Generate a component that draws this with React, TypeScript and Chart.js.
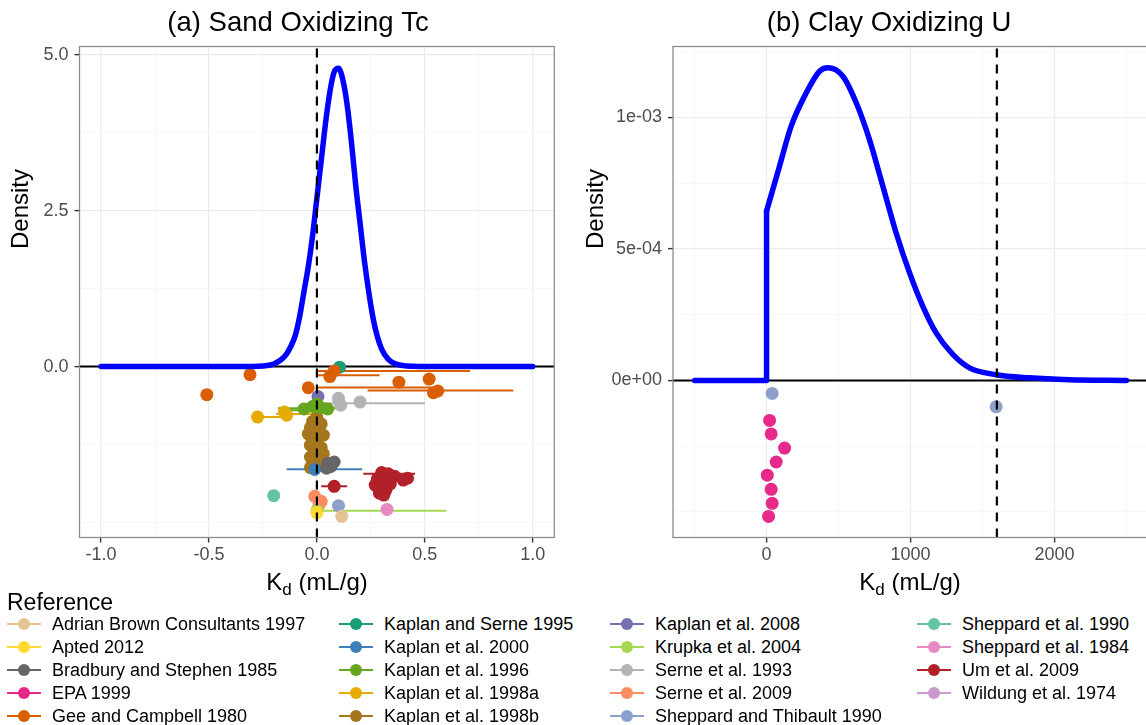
import React, { useEffect, useRef } from "react";
import { Chart, registerables } from "chart.js";

Chart.register(...registerables);

const FONT = '"Liberation Sans", Arial, Helvetica, sans-serif';

// ---------- references ----------
const referenceNames = [
  "Adrian Brown Consultants 1997",
  "Apted 2012",
  "Bradbury and Stephen 1985",
  "EPA 1999",
  "Gee and Campbell 1980",
  "Kaplan and Serne 1995",
  "Kaplan et al. 2000",
  "Kaplan et al. 1996",
  "Kaplan et al. 1998a",
  "Kaplan et al. 1998b",
  "Kaplan et al. 2008",
  "Krupka et al. 2004",
  "Serne et al. 1993",
  "Serne et al. 2009",
  "Sheppard and Thibault 1990",
  "Sheppard et al. 1990",
  "Sheppard et al. 1984",
  "Um et al. 2009",
  "Wildung et al. 1974",
];
const referenceColors = [
  "#e5c494", "#ffd92f", "#666666", "#e7298a", "#d95f02",
  "#1b9e77", "#4080b8", "#66a61e", "#e6ab02", "#a6761d",
  "#7570b3", "#a6d854", "#b3b3b3", "#fc8d62", "#8da0cb",
  "#66c2a5", "#e78ac3", "#b2212a", "#cc99cc",
];

// ---------- (a) Sand Oxidizing Tc ----------
const sandCurveX = [-1.0, -0.5, -0.3, -0.25, -0.2, -0.15, -0.12, -0.1, -0.08, -0.06, -0.04, -0.02, 0.0, 0.02, 0.04, 0.06, 0.08, 0.1, 0.12, 0.14, 0.16, 0.18, 0.2, 0.22, 0.24, 0.26, 0.28, 0.3, 0.33, 0.36, 0.4, 0.45, 0.5, 0.7, 1.0];
const sandCurveY = [0, 0, 0.002, 0.01, 0.04, 0.16, 0.33, 0.5, 0.8, 1.2, 1.6, 2.1, 2.7, 3.3, 3.9, 4.4, 4.72, 4.78, 4.6, 4.2, 3.6, 2.9, 2.3, 1.7, 1.2, 0.78, 0.48, 0.28, 0.12, 0.05, 0.015, 0.004, 0.001, 0, 0];

const sandPointRef = [
  4, 4, 4, 4, 4, 4, 4, 4, 4,
  5,
  10,
  12, 12, 12,
  7, 7, 7, 7, 7,
  8, 8, 8,
  9, 9, 9, 9, 9, 9, 9, 9, 9, 9, 9, 9, 9, 9, 9, 9, 9, 9,
  2, 2, 2, 2,
  6,
  17, 17, 17, 17, 17, 17, 17, 17, 17, 17, 17, 17, 17, 17,
  15,
  13, 13, 13,
  14,
  16,
  11,
  1,
  0,
];
const sandPointX = [
  -0.31, -0.51, 0.08, 0.06, 0.38, 0.52, -0.04, 0.54, 0.56,
  0.105,
  0.005,
  0.10, 0.20, 0.11,
  0.0, -0.02, 0.02, -0.06, 0.05,
  -0.275, -0.14, -0.15,
  0.0, -0.02, 0.02, -0.03, 0.01, -0.04, 0.03, -0.02, 0.0, -0.03, 0.02, -0.01, 0.03, -0.03, 0.01, -0.02, 0.02, -0.03,
  0.05, 0.08, 0.065, 0.045,
  -0.01,
  0.30, 0.33, 0.36, 0.42, 0.40, 0.28, 0.31, 0.34, 0.27, 0.30, 0.32, 0.29, 0.31, 0.08,
  -0.20,
  -0.01, 0.02, 0.01,
  0.10,
  0.325,
  0.0,
  0.0,
  0.115,
];
const sandPointY = [
  -0.13, -0.45, -0.07, -0.16, -0.25, -0.20, -0.34, -0.42, -0.39,
  -0.01,
  -0.48,
  -0.51, -0.57, -0.62,
  -0.60, -0.64, -0.66, -0.68, -0.68,
  -0.81, -0.78, -0.73,
  -0.82, -0.88, -0.92, -0.98, -1.02, -1.08, -1.10, -1.15, -1.20, -1.26, -1.30, -1.36, -1.40, -1.45, -1.50, -1.55, -1.58, -1.62,
  -1.55, -1.53, -1.60, -1.63,
  -1.65,
  -1.70, -1.72, -1.76, -1.79, -1.82, -1.80, -1.84, -1.88, -1.90, -1.94, -1.98, -2.03, -2.06, -1.92,
  -2.07,
  -2.08, -2.16, -2.22,
  -2.23,
  -2.29,
  -2.31,
  -2.34,
  -2.40,
];

const sandBarRef = [4, 4, 4, 4, 12, 7, 7, 8, 8, 6, 17, 17, 11];
const sandBarY = [-0.07, -0.14, -0.335, -0.385, -0.59, -0.67, -0.70, -0.81, -0.76, -1.645, -1.72, -1.92, -2.31];
const sandBarLo = [0.0, 0.0, 0.0, 0.235, 0.0, -0.18, -0.14, -0.275, -0.19, -0.14, 0.215, 0.02, 0.0];
const sandBarHi = [0.71, 0.29, 0.53, 0.91, 0.5, 0.12, 0.02, -0.12, -0.01, 0.21, 0.455, 0.14, 0.6];

const sandXMajor = [-1, -0.5, 0, 0.5, 1];
const sandXMajorLabels = ["-1.0", "-0.5", "0.0", "0.5", "1.0"];
const sandXMinor = [-0.75, -0.25, 0.25, 0.75];
const sandYMajor = [0, 2.5, 5];
const sandYMajorLabels = ["0.0", "2.5", "5.0"];
const sandYMinor = [-2.5, -1.25, 1.25, 3.75];
const sandXRange = [-1.1, 1.1];
const sandYRange = [-2.74, 5.13];
const sandVLine = 0;

// ---------- (b) Clay Oxidizing U ----------
const clayStepX = [-500, 0, 0];
const clayStepY = [0, 0, 0.000644];
const clayCurveX = [0, 90, 171, 276, 368, 426, 530, 623, 715, 808, 900, 993, 1085, 1178, 1294, 1410, 1595, 1826, 2100, 2500];
const clayCurveY = [0.000644, 0.000815, 0.000967, 0.001094, 0.001176, 0.001189, 0.001157, 0.001056, 0.000916, 0.000739, 0.000562, 0.00041, 0.000283, 0.000181, 0.000099, 0.000048, 0.000022, 0.00001, 0.000003, 0];

const clayPointRef = [14, 14, 3, 3, 3, 3, 3, 3, 3, 3];
const clayPointX = [39, 1595, 21, 32, 125, 67, 5, 32, 39, 14];
const clayPointY = [-0.000049, -0.0001, -0.000152, -0.000203, -0.000257, -0.00031, -0.00036, -0.000414, -0.000467, -0.000517];

const clayBarRef: number[] = [];
const clayBarY: number[] = [];
const clayBarLo: number[] = [];
const clayBarHi: number[] = [];

const clayXMajor = [0, 1000, 2000];
const clayXMajorLabels = ["0", "1000", "2000"];
const clayXMinor = [-500, 500, 1500, 2500];
const clayYMajor = [0, 0.0005, 0.001];
const clayYMajorLabels = ["0e+00", "5e-04", "1e-03"];
const clayYMinor = [-0.0005, -0.00025, 0.00025, 0.00075, 0.00125];
const clayXRange = [-650, 2650];
const clayYRange = [-0.000597, 0.00127];
const clayVLine = 1600;

// ---------- helpers ----------
type PanelSpec = {
  title: string;
  curves: { x: number[]; y: number[]; smooth: boolean }[];
  pointRef: number[]; pointX: number[]; pointY: number[];
  barRef: number[]; barY: number[]; barLo: number[]; barHi: number[];
  xMajor: number[]; xMajorLabels: string[]; xMinor: number[];
  yMajor: number[]; yMajorLabels: string[]; yMinor: number[];
  xRange: number[]; yRange: number[]; vline: number;
  canvasW: number; canvasH: number;
  areaLeft: number; areaRight: number; areaTop: number; areaBottom: number;
  titleX: number; yTitleX: number; yTitleY: number; xTitleX: number;
};

const panelDecor = {
  id: "panelDecor",
  beforeDatasetsDraw(chart: any) {
    const { ctx, chartArea, scales } = chart;
    const y0 = scales.y.getPixelForValue(0);
    ctx.save();
    ctx.strokeStyle = "#000000";
    ctx.lineWidth = 2;
    ctx.beginPath();
    ctx.moveTo(chartArea.left, y0);
    ctx.lineTo(chartArea.right, y0);
    ctx.stroke();
    ctx.restore();
  },
  afterDatasetsDraw(chart: any, _a: any, opts: any) {
    const { ctx, chartArea, scales } = chart;
    const xv = scales.x.getPixelForValue(opts.vline);
    ctx.save();
    ctx.strokeStyle = "#000000";
    ctx.lineWidth = 2.2;
    ctx.setLineDash([9, 7]);
    ctx.beginPath();
    ctx.moveTo(xv, chartArea.bottom);
    ctx.lineTo(xv, chartArea.top);
    ctx.stroke();
    ctx.setLineDash([]);
    ctx.strokeStyle = "#8c8c8c";
    ctx.lineWidth = 1.3;
    ctx.strokeRect(chartArea.left, chartArea.top, chartArea.right - chartArea.left, chartArea.bottom - chartArea.top);
    ctx.restore();
  },
  afterDraw(chart: any, _a: any, opts: any) {
    const { ctx } = chart;
    ctx.save();
    ctx.fillStyle = "#000000";
    ctx.font = `27.5px ${FONT}`;
    ctx.textAlign = "center";
    ctx.textBaseline = "alphabetic";
    ctx.fillText(opts.title, opts.titleX, 31);
    ctx.save();
    ctx.translate(opts.yTitleX, opts.yTitleY);
    ctx.rotate(-Math.PI / 2);
    ctx.font = `24px ${FONT}`;
    ctx.textAlign = "center";
    ctx.textBaseline = "middle";
    ctx.fillText("Density", 0, 0);
    ctx.restore();
    const big = `24px ${FONT}`;
    const small = `17px ${FONT}`;
    ctx.font = big;
    const wK = ctx.measureText("K").width;
    const wRest = ctx.measureText(" (mL/g)").width;
    ctx.font = small;
    const wd = ctx.measureText("d").width;
    let x = opts.xTitleX - (wK + wd + wRest) / 2;
    const base = 590;
    ctx.textAlign = "left";
    ctx.font = big;
    ctx.fillText("K", x, base);
    x += wK;
    ctx.font = small;
    ctx.fillText("d", x, base + 5);
    x += wd;
    ctx.font = big;
    ctx.fillText(" (mL/g)", x, base);
    ctx.restore();
  },
};

function buildConfig(p: PanelSpec): any {
  const datasets: any[] = [];
  p.barRef.forEach((r, i) => {
    datasets.push({
      data: [{ x: p.barLo[i], y: p.barY[i] }, { x: p.barHi[i], y: p.barY[i] }],
      showLine: true,
      borderColor: referenceColors[r],
      borderWidth: 2,
      pointRadius: 0,
      order: 3,
    });
  });
  referenceNames.forEach((name, r) => {
    const pts: { x: number; y: number }[] = [];
    p.pointRef.forEach((pr, i) => {
      if (pr === r) pts.push({ x: p.pointX[i], y: p.pointY[i] });
    });
    if (pts.length) {
      datasets.push({
        label: name,
        data: pts,
        backgroundColor: referenceColors[r],
        borderColor: referenceColors[r],
        borderWidth: 0,
        pointRadius: 6.5,
        pointHoverRadius: 6.5,
        order: 2,
      });
    }
  });
  p.curves.forEach((c) => {
    datasets.push({
      data: c.x.map((xv, i) => ({ x: xv, y: c.y[i] })),
      showLine: true,
      borderColor: "#0000ff",
      borderWidth: 5.5,
      pointRadius: 0,
      cubicInterpolationMode: c.smooth ? "monotone" : "default",
      tension: 0,
      borderCapStyle: "round",
      borderJoinStyle: "round",
      order: 1,
    });
  });

  const xTicks = [...p.xMajor, ...p.xMinor].sort((a, b) => a - b);
  const yTicks = [...p.yMajor, ...p.yMinor].sort((a, b) => a - b);
  const isXMaj = (v: number) => p.xMajor.indexOf(v) >= 0;
  const isYMaj = (v: number) => p.yMajor.indexOf(v) >= 0;

  const gridFor = (isMaj: (v: number) => boolean) => ({
    color: (ctx: any) => (ctx.tick && isMaj(ctx.tick.value) ? "#ebebeb" : "#f4f4f4"),
    lineWidth: (ctx: any) => (ctx.tick && isMaj(ctx.tick.value) ? 1.2 : 0.7),
    tickColor: (ctx: any) => (ctx.tick && isMaj(ctx.tick.value) ? "#333333" : "rgba(0,0,0,0)"),
    tickLength: 5,
    tickWidth: 1.4,
    drawTicks: true,
    drawOnChartArea: true,
  });

  return {
    type: "scatter",
    data: { datasets },
    options: {
      responsive: false,
      animation: false,
      devicePixelRatio: 1,
      events: [],
      layout: {
        padding: { left: 0, top: p.areaTop, right: p.canvasW - p.areaRight, bottom: 0 },
      },
      plugins: {
        legend: { display: false },
        tooltip: { enabled: false },
        title: { display: false },
        panelDecor: {
          vline: p.vline,
          title: p.title,
          titleX: p.titleX,
          yTitleX: p.yTitleX,
          yTitleY: p.yTitleY,
          xTitleX: p.xTitleX,
        },
      },
      scales: {
        x: {
          type: "linear",
          min: p.xRange[0],
          max: p.xRange[1],
          afterBuildTicks: (s: any) => {
            s.ticks = xTicks.map((v) => ({ value: v }));
          },
          afterFit: (s: any) => {
            s.height = p.canvasH - p.areaBottom;
          },
          ticks: {
            callback: (v: any) => {
              const i = p.xMajor.indexOf(v);
              return i >= 0 ? p.xMajorLabels[i] : "";
            },
            autoSkip: false,
            maxRotation: 0,
            minRotation: 0,
            color: "#4d4d4d",
            font: { size: 18, family: FONT },
            padding: 1.5,
          },
          grid: gridFor(isXMaj),
          border: { display: false },
        },
        y: {
          type: "linear",
          min: p.yRange[0],
          max: p.yRange[1],
          afterBuildTicks: (s: any) => {
            s.ticks = yTicks.map((v) => ({ value: v }));
          },
          afterFit: (s: any) => {
            s.width = p.areaLeft;
          },
          ticks: {
            callback: (v: any) => {
              const i = p.yMajor.indexOf(v);
              return i >= 0 ? p.yMajorLabels[i] : "";
            },
            autoSkip: false,
            color: "#4d4d4d",
            font: { size: 18, family: FONT },
            padding: 6,
          },
          grid: gridFor(isYMaj),
          border: { display: false },
        },
      },
    },
    plugins: [panelDecor],
  };
}

const sandSpec: PanelSpec = {
  title: "(a) Sand Oxidizing Tc",
  curves: [{ x: sandCurveX, y: sandCurveY, smooth: true }],
  pointRef: sandPointRef, pointX: sandPointX, pointY: sandPointY,
  barRef: sandBarRef, barY: sandBarY, barLo: sandBarLo, barHi: sandBarHi,
  xMajor: sandXMajor, xMajorLabels: sandXMajorLabels, xMinor: sandXMinor,
  yMajor: sandYMajor, yMajorLabels: sandYMajorLabels, yMinor: sandYMinor,
  xRange: sandXRange, yRange: sandYRange, vline: sandVLine,
  canvasW: 596, canvasH: 600,
  areaLeft: 79.5, areaRight: 554.3, areaTop: 46.5, areaBottom: 537.5,
  titleX: 298, yTitleX: 21, yTitleY: 209, xTitleX: 317,
};

const claySpec: PanelSpec = {
  title: "(b) Clay Oxidizing U",
  curves: [
    { x: clayStepX, y: clayStepY, smooth: false },
    { x: clayCurveX, y: clayCurveY, smooth: true },
  ],
  pointRef: clayPointRef, pointX: clayPointX, pointY: clayPointY,
  barRef: clayBarRef, barY: clayBarY, barLo: clayBarLo, barHi: clayBarHi,
  xMajor: clayXMajor, xMajorLabels: clayXMajorLabels, xMinor: clayXMinor,
  yMajor: clayYMajor, yMajorLabels: clayYMajorLabels, yMinor: clayYMinor,
  xRange: clayXRange, yRange: clayYRange, vline: clayVLine,
  canvasW: 620, canvasH: 600,
  areaLeft: 93, areaRight: 568, areaTop: 46.5, areaBottom: 537.5,
  titleX: 309, yTitleX: 16, yTitleY: 209, xTitleX: 330,
};

function Panel({ spec, left }: { spec: PanelSpec; left: number }) {
  const ref = useRef<HTMLCanvasElement>(null);
  useEffect(() => {
    const chart = new Chart(ref.current as HTMLCanvasElement, buildConfig(spec));
    return () => chart.destroy();
  }, [spec]);
  return (
    <canvas
      ref={ref}
      width={spec.canvasW}
      height={spec.canvasH}
      style={{ position: "absolute", left, top: 0, width: spec.canvasW, height: spec.canvasH }}
    />
  );
}

const legendColX = [7, 339, 610, 917];
const legendRowY0 = 624;
const legendRowStep = 23;

function Legend() {
  return (
    <>
      <div style={{ position: "absolute", left: 7, top: 589, font: `23px ${FONT}`, color: "#000", lineHeight: "26px" }}>
        Reference
      </div>
      {referenceNames.map((name, i) => {
        const col = Math.floor(i / 5);
        const row = i % 5;
        const cy = legendRowY0 + row * legendRowStep;
        return (
          <div
            key={name}
            style={{ position: "absolute", left: legendColX[col], top: cy - 11, height: 22, display: "flex", alignItems: "center", whiteSpace: "nowrap" }}
          >
            <div style={{ position: "relative", width: 34, height: 22 }}>
              <div style={{ position: "absolute", left: 0, top: 9.75, width: 34, height: 2.5, background: referenceColors[i] }} />
              <div style={{ position: "absolute", left: 11, top: 5, width: 12, height: 12, borderRadius: 6, background: referenceColors[i] }} />
            </div>
            <span style={{ marginLeft: 11, font: `18px ${FONT}`, color: "#000", lineHeight: "22px" }}>{name}</span>
          </div>
        );
      })}
    </>
  );
}

export default function App() {
  return (
    <div style={{ position: "absolute", left: 0, top: 0, width: 1146, height: 725, overflow: "hidden", background: "#fff" }}>
      <Panel spec={sandSpec} left={0} />
      <Panel spec={claySpec} left={580} />
      <Legend />
    </div>
  );
}
